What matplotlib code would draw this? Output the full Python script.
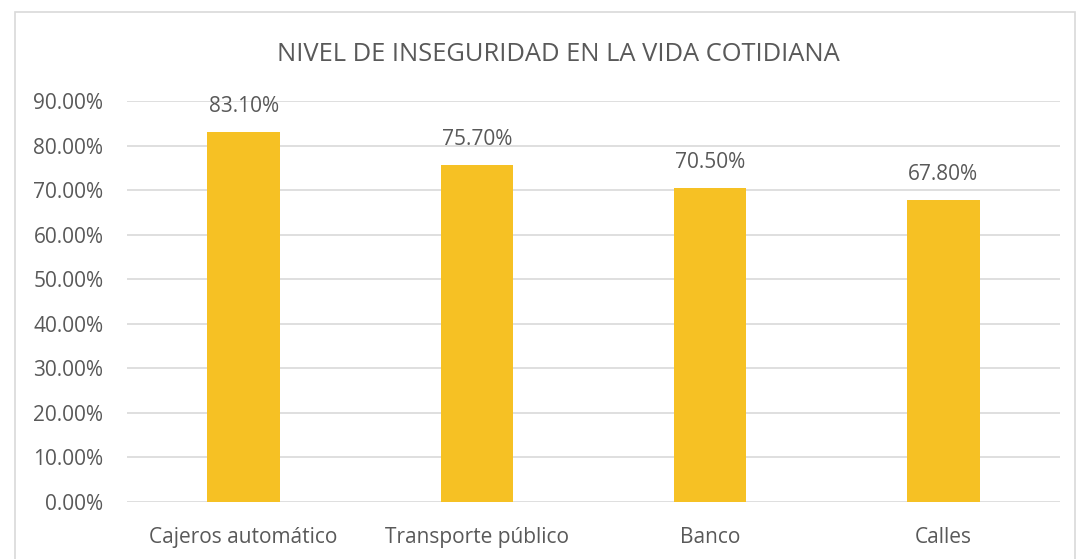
import matplotlib
matplotlib.use("Agg")
import matplotlib.pyplot as plt
from matplotlib.ticker import FuncFormatter
from matplotlib.patches import Rectangle

categories = ["Cajeros automático", "Transporte público", "Banco", "Calles"]
values = [0.831, 0.757, 0.705, 0.678]
yticks = [0.0, 0.1, 0.2, 0.3, 0.4, 0.5, 0.6, 0.7, 0.8, 0.9]

text_color = "#595959"
bar_color = "#F6C124"
grid_color = "#D9D9D9"

plt.rcParams["font.family"] = ["Open Sans", "DejaVu Sans"]

fig = plt.figure(figsize=(10.78, 5.59), dpi=100)
ax = fig.add_axes([0.1178, 0.102, 0.8655, 0.7173])

x = range(len(categories))
bars = ax.bar(x, values, width=0.31, color=bar_color, zorder=2)

ax.set_xlim(-0.5, len(categories) - 0.5)
ax.set_ylim(0, 0.9)
ax.set_yticks(yticks)
ax.yaxis.set_major_formatter(FuncFormatter(lambda v, p: "%.2f%%" % (v * 100)))
ax.set_xticks(list(x))
ax.set_xticklabels(categories)
ax.tick_params(axis="both", length=0, labelsize=15, colors=text_color)
ax.tick_params(axis="x", pad=18)
ax.tick_params(axis="y", pad=17)

ax.yaxis.grid(True, color=grid_color, linewidth=1.2, zorder=0)
for s in ax.spines.values():
    s.set_visible(False)

for b, v in zip(bars, values):
    ax.annotate("%.2f%%" % (v * 100), (b.get_x() + b.get_width() / 2, v),
                xytext=(0, 18), textcoords="offset points",
                ha="center", va="center", fontsize=15, color=text_color)

fig.text(0.518, 0.902, "NIVEL DE INSEGURIDAD EN LA VIDA COTIDIANA",
         ha="center", va="center", fontsize=18.4, color=text_color)

# chart border
fig.patches.append(Rectangle((15 / 1078, -0.01), 1060 / 1078, 1 - 12 / 559 + 0.01,
                             transform=fig.transFigure, fill=False,
                             edgecolor="#D9D9D9", linewidth=1.2))

fig.savefig("out.png", dpi=100, facecolor="white")
